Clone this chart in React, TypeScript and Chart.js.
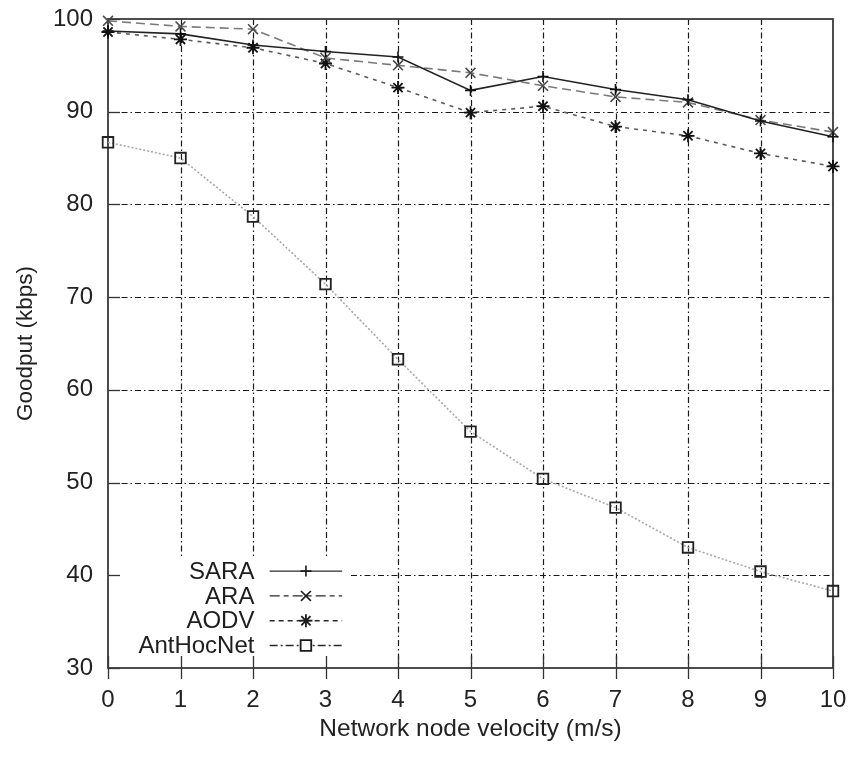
import React, { useEffect, useRef } from "react";
import { Chart, registerables } from "chart.js";

Chart.register(...registerables);

const velocities = [0, 1, 2, 3, 4, 5, 6, 7, 8, 9, 10];
const yTickValues = [30, 40, 50, 60, 70, 80, 90, 100];
const sara = [98.7, 98.4, 97.2, 96.5, 95.9, 92.3, 93.8, 92.4, 91.3, 89.0, 87.3];
const ara = [99.8, 99.2, 98.9, 95.8, 95.0, 94.2, 92.8, 91.6, 91.0, 89.1, 87.8];
const aodv = [98.6, 97.8, 96.9, 95.2, 92.6, 89.9, 90.6, 88.4, 87.4, 85.5, 84.1];
const antHocNet = [86.7, 85.0, 78.7, 71.4, 63.3, 55.5, 50.4, 47.3, 43.0, 40.4, 38.3];
const seriesNames = ["SARA", "ARA", "AODV", "AntHocNet"];

const FONT = "'Liberation Sans', Arial, Helvetica, sans-serif";
const FS = 24;

function drawMarker(ctx: CanvasRenderingContext2D, style: string, x: number, y: number, r: number) {
  ctx.beginPath();
  if (style === "cross" || style === "star") {
    ctx.moveTo(x - r, y);
    ctx.lineTo(x + r, y);
    ctx.moveTo(x, y - r);
    ctx.lineTo(x, y + r);
  }
  if (style === "crossRot" || style === "star") {
    const d = r * Math.SQRT1_2;
    ctx.moveTo(x - d, y - d);
    ctx.lineTo(x + d, y + d);
    ctx.moveTo(x - d, y + d);
    ctx.lineTo(x + d, y - d);
  }
  if (style === "rect") {
    const s = r * Math.SQRT1_2;
    ctx.rect(x - s, y - s, 2 * s, 2 * s);
  }
  ctx.stroke();
}

const gnuplotPlugin = {
  id: "gnuplotLook",
  beforeDatasetsDraw(chart: any) {
    const { ctx, chartArea, scales } = chart;
    const { left, right, top, bottom } = chartArea;
    const xs = scales.x;
    const ys = scales.y;
    ctx.save();
    // dash-dot grid
    ctx.strokeStyle = "#1a1a1a";
    ctx.lineWidth = 1.2;
    ctx.setLineDash([6, 3, 1.5, 3]);
    velocities.forEach((v) => {
      if (v === velocities[0] || v === velocities[velocities.length - 1]) return;
      const px = Math.round(xs.getPixelForValue(v)) + 0.5;
      ctx.beginPath();
      ctx.moveTo(px, top);
      ctx.lineTo(px, bottom);
      ctx.stroke();
    });
    yTickValues.forEach((v) => {
      if (v === yTickValues[0] || v === yTickValues[yTickValues.length - 1]) return;
      const py = Math.round(ys.getPixelForValue(v)) + 0.5;
      ctx.beginPath();
      ctx.moveTo(left, py);
      ctx.lineTo(right, py);
      ctx.stroke();
    });
    ctx.setLineDash([]);
    // legend mask
    const boxLeft = left + 3;
    const boxRight = xs.getPixelForValue(3.35);
    const boxTop = ys.getPixelForValue(41.9);
    ctx.fillStyle = "#ffffff";
    ctx.fillRect(boxLeft, boxTop, boxRight - boxLeft, bottom - boxTop);
    // ticks
    ctx.strokeStyle = "#333";
    ctx.lineWidth = 1.3;
    velocities.forEach((v) => {
      const px = Math.round(xs.getPixelForValue(v)) + 0.5;
      ctx.beginPath();
      ctx.moveTo(px, bottom - 12);
      ctx.lineTo(px, bottom + 11);
      ctx.stroke();
    });
    yTickValues.forEach((v) => {
      const py = Math.round(ys.getPixelForValue(v)) + 0.5;
      ctx.beginPath();
      ctx.moveTo(left, py);
      ctx.lineTo(left + 12, py);
      ctx.stroke();
    });
    // border
    ctx.strokeStyle = "#3a3a3a";
    ctx.lineWidth = 1.8;
    ctx.strokeRect(left, top, right - left, bottom - top);
    ctx.restore();
  },
  afterDatasetsDraw(chart: any) {
    const { ctx, scales } = chart;
    const xs = scales.x;
    const ys = scales.y;
    const textRight = xs.getPixelForValue(2.02);
    const lineStart = xs.getPixelForValue(2.23);
    const lineEnd = xs.getPixelForValue(3.23);
    const markX = (lineStart + lineEnd) / 2;
    const row0 = ys.getPixelForValue(40.45);
    const rowStep = 24.8;
    ctx.save();
    ctx.font = `${FS}px ${FONT}`;
    ctx.textAlign = "right";
    ctx.textBaseline = "middle";
    chart.data.datasets.forEach((ds: any, i: number) => {
      const y = row0 + i * rowStep;
      ctx.fillStyle = "#1e1e1e";
      ctx.fillText(seriesNames[i], textRight, y + 1);
      ctx.strokeStyle = "#2a2a2a";
      ctx.lineWidth = 1.4;
      ctx.setLineDash(ds.legendDash || []);
      ctx.beginPath();
      ctx.moveTo(lineStart, y);
      ctx.lineTo(lineEnd, y);
      ctx.stroke();
      ctx.setLineDash([]);
      if (ds.pointStyle === "rect") {
        ctx.fillStyle = "#fff";
        const s = ds.pointRadius * Math.SQRT1_2;
        ctx.fillRect(markX - s, y - s, 2 * s, 2 * s);
      }
      ctx.strokeStyle = "#1a1a1a";
      ctx.lineWidth = ds.pointBorderWidth;
      drawMarker(ctx, ds.pointStyle, markX, y, ds.pointRadius);
    });
    ctx.restore();
  },
};

function toPoints(values: number[]) {
  return velocities.map((v, i) => ({ x: v, y: values[i] }));
}

export default function App() {
  const canvasRef = useRef<HTMLCanvasElement | null>(null);

  useEffect(() => {
    document.body.style.margin = "0";
    document.body.style.background = "#ffffff";
    const canvas = canvasRef.current;
    if (!canvas) return;
    const chart = new Chart(canvas, {
      type: "line",
      data: {
        datasets: [
          {
            label: "SARA",
            data: toPoints(sara),
            borderColor: "#222",
            borderWidth: 1.6,
            pointStyle: "cross",
            pointRadius: 5.5,
            pointBorderColor: "#111",
            pointBorderWidth: 1.6,
            pointBackgroundColor: "rgba(0,0,0,0)",
            fill: false,
            tension: 0,
            clip: false,
            legendDash: [],
          } as any,
          {
            label: "ARA",
            data: toPoints(ara),
            borderColor: "#7a7a7a",
            borderWidth: 1.6,
            borderDash: [9, 5],
            pointStyle: "crossRot",
            pointRadius: 7,
            pointBorderColor: "#4a4a4a",
            pointBorderWidth: 1.6,
            pointBackgroundColor: "rgba(0,0,0,0)",
            fill: false,
            tension: 0,
            clip: false,
            legendDash: [10, 4, 5, 4],
          } as any,
          {
            label: "AODV",
            data: toPoints(aodv),
            borderColor: "#5a5a5a",
            borderWidth: 1.6,
            borderDash: [4, 5],
            pointStyle: "star",
            pointRadius: 6.5,
            pointBorderColor: "#111",
            pointBorderWidth: 1.8,
            pointBackgroundColor: "rgba(0,0,0,0)",
            fill: false,
            tension: 0,
            clip: false,
            legendDash: [5, 4],
          } as any,
          {
            label: "AntHocNet",
            data: toPoints(antHocNet),
            borderColor: "#a8a8a8",
            borderWidth: 1.6,
            borderDash: [2, 2],
            pointStyle: "rect",
            pointRadius: 7.5,
            pointBorderColor: "#222",
            pointBorderWidth: 1.8,
            pointBackgroundColor: "rgba(0,0,0,0)",
            fill: false,
            tension: 0,
            clip: false,
            legendDash: [8, 3, 2, 3],
          } as any,
        ],
      },
      options: {
        animation: false,
        responsive: false,
        maintainAspectRatio: false,
        layout: { padding: { left: 0, right: 19, top: 19, bottom: 0 } },
        plugins: { legend: { display: false }, tooltip: { enabled: false } },
        scales: {
          x: {
            type: "linear",
            min: 0,
            max: 10,
            afterFit: (s: any) => {
              s.height = 90;
              s.paddingLeft = 0;
              s.paddingRight = 0;
            },
            afterBuildTicks: (s: any) => {
              s.ticks = velocities.map((v) => ({ value: v }));
            },
            grid: { display: false, drawTicks: false },
            border: { display: false },
            ticks: {
              padding: 18,
              color: "#222",
              font: { family: FONT, size: FS },
            },
            title: {
              display: true,
              text: "Network node velocity (m/s)",
              color: "#222",
              font: { family: FONT, size: 24.5 },
              padding: { top: 0, bottom: 14 },
            },
          },
          y: {
            type: "linear",
            min: 30,
            max: 100,
            afterFit: (s: any) => {
              s.width = 108;
              s.paddingTop = 0;
              s.paddingBottom = 0;
            },
            afterBuildTicks: (s: any) => {
              s.ticks = yTickValues.map((v) => ({ value: v }));
            },
            grid: { display: false, drawTicks: false },
            border: { display: false },
            ticks: {
              padding: 15,
              color: "#222",
              font: { family: FONT, size: FS },
            },
            title: {
              display: true,
              text: "Goodput (kbps)",
              color: "#222",
              font: { family: FONT, size: 22.5 },
              padding: { top: 12, bottom: 0 },
            },
          },
        },
      },
      plugins: [gnuplotPlugin],
    });
    return () => chart.destroy();
  }, []);

  return (
    <canvas
      ref={canvasRef}
      width={852}
      height={758}
      style={{ display: "block", width: "852px", height: "758px" }}
    />
  );
}
